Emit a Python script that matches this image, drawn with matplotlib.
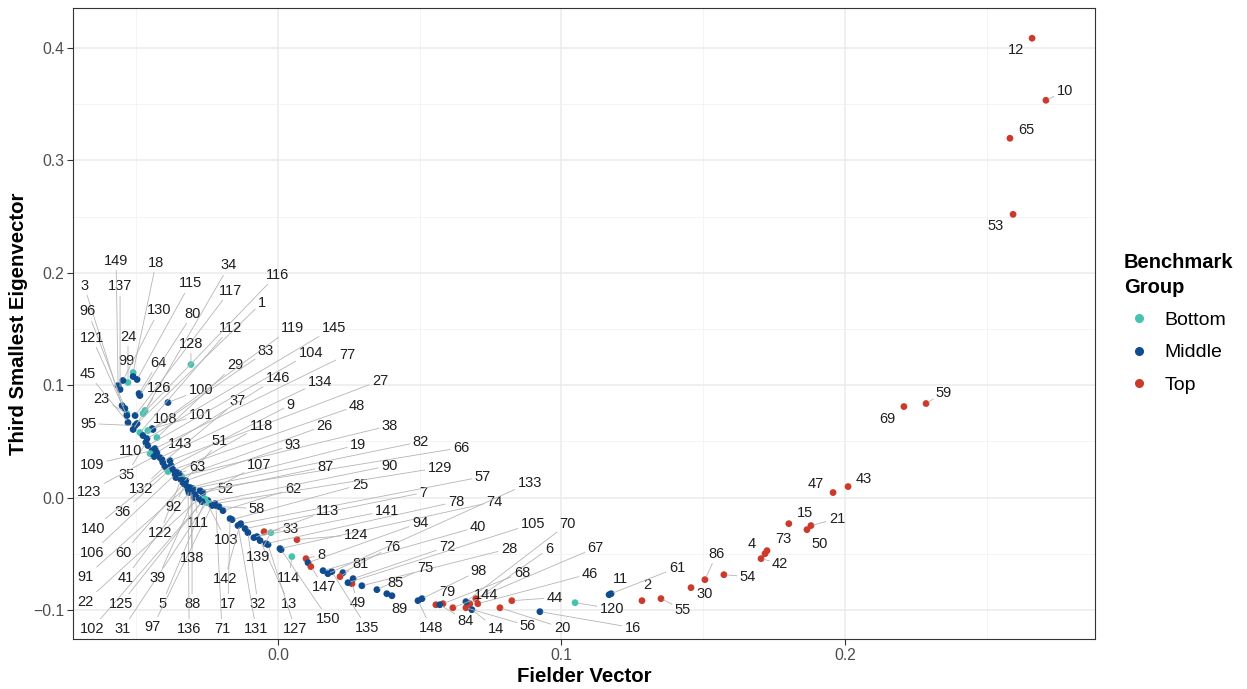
import matplotlib
matplotlib.use("Agg")
import matplotlib.pyplot as plt
from matplotlib.lines import Line2D

plt.rcParams['font.family'] = ['Liberation Sans', 'DejaVu Sans']

# sample ids 1..150
sample_id = list(range(1, 151))

# Fielder vector (x) by sample id
fiedler = [
    -0.0497, 0.1284, -0.0550, 0.1718, -0.0257, 0.0677, -0.0116, 0.0099, -0.0392, 0.2709,
    0.1168, 0.2660, -0.0063, 0.0684, 0.1802, 0.0924, -0.0169, -0.0511, -0.0310, 0.0783,
    0.1880, -0.0279, -0.0533, -0.0529, -0.0162, -0.0339, -0.0381, 0.0296, -0.0427, 0.1457,
    -0.0247, -0.0106, -0.0049, -0.0469, -0.0466, -0.0388, -0.0406, -0.0360, -0.0296, 0.0159,
    -0.0314, 0.1704, 0.2011, 0.0825, -0.0529, 0.0705, 0.1958, -0.0370, 0.0261, 0.1866,
    -0.0335, -0.0240, 0.2593, 0.1573, 0.1351, 0.0663, -0.0131, -0.0208, 0.2286, -0.0332,
    0.1175, -0.0194, -0.0349, -0.0490, 0.2582, -0.0275, 0.0698, 0.0582, 0.2208, 0.0663,
    -0.0219, 0.0265, 0.1725, 0.0007, 0.0349, 0.0229, -0.0434, -0.0042, 0.0557, -0.0487,
    0.0219, -0.0300, -0.0441, 0.0571, 0.0384, 0.1506, -0.0265, -0.0303, 0.0402, -0.0250,
    -0.0321, -0.0328, -0.0325, 0.0106, -0.0504, -0.0540, -0.0233, 0.0508, -0.0511, -0.0388,
    -0.0444, -0.0261, -0.0258, -0.0459, 0.0247, -0.0363, -0.0286, -0.0459, -0.0444, -0.0451,
    -0.0293, -0.0487, -0.0085, 0.0049, -0.0497, -0.0476, -0.0504, -0.0356, -0.0476, 0.1048,
    -0.0533, -0.0342, -0.0437, 0.0067, -0.0268, -0.0511, -0.0035, -0.0307, -0.0222, -0.0547,
    -0.0141, -0.0399, 0.0176, -0.0416, 0.0190, -0.0317, -0.0557, -0.0307, -0.0025, -0.0377,
    -0.0074, -0.0134, -0.0409, 0.0617, -0.0462, -0.0427, 0.0116, 0.0494, -0.0564, 0.0011,
]

# third smallest eigenvector (y) by sample id
third = [
    0.0659, -0.0917, 0.0819, -0.0499, -0.0027, -0.0944, -0.0276, -0.0543, 0.0258, 0.3535,
    -0.0864, 0.4087, -0.0383, -0.0997, -0.0232, -0.1015, -0.0187, 0.1113, 0.0089, -0.0980,
    -0.0249, -0.0009, 0.0748, 0.1024, -0.0196, 0.0187, 0.0329, -0.0784, 0.0534, -0.0801,
    -0.0027, -0.0312, -0.0303, 0.0775, 0.0490, 0.0232, 0.0312, 0.0178, 0.0000, -0.0650,
    0.0045, -0.0543, 0.0098, -0.0917, 0.0668, -0.0944, 0.0045, 0.0249, -0.0766, -0.0285,
    0.0134, -0.0053, 0.2520, -0.0686, -0.0899, -0.0980, -0.0232, -0.0080, 0.0837, 0.0125,
    -0.0855, -0.0116, 0.0214, 0.0926, 0.3197, 0.0062, -0.0899, -0.0944, 0.0810, -0.0926,
    -0.0071, -0.0721, -0.0472, -0.0454, -0.0819, -0.0668, 0.0436, -0.0410, -0.0953, 0.0908,
    -0.0703, 0.0080, 0.0606, -0.0953, -0.0855, -0.0730, 0.0045, 0.0053, -0.0873, -0.0045,
    0.0098, 0.0116, 0.0151, -0.0579, 0.0641, 0.0793, -0.0071, -0.0899, 0.1077, 0.0846,
    0.0614, -0.0018, -0.0009, 0.0463, -0.0757, 0.0205, 0.0000, 0.0597, 0.0418, 0.0392,
    0.0027, 0.0579, -0.0356, -0.0525, 0.1051, 0.0748, 0.0730, 0.0223, 0.0552, -0.0935,
    0.0730, 0.0160, 0.0365, -0.0374, -0.0036, 0.0606, -0.0419, 0.1184, -0.0053, 0.1042,
    -0.0249, 0.0276, -0.0677, 0.0356, -0.0659, 0.0071, 0.0962, 0.0071, -0.0312, 0.0285,
    -0.0347, -0.0240, 0.0338, -0.0980, 0.0525, 0.0401, -0.0614, -0.0917, 0.0997, -0.0463,
]

bottom_ids = [9, 18, 23, 24, 26, 29, 34, 36, 52, 90, 103, 108, 110, 112, 114, 116, 120, 128, 139]
top_ids = [2, 4, 6, 8, 10, 12, 15, 20, 21, 30, 33, 42, 43, 44, 46, 47, 49, 50, 53, 54, 55, 56,
           59, 65, 67, 68, 69, 73, 79, 81, 86, 124, 144, 147]
group_names = ["Bottom", "Middle", "Top"]

# label placement (pixel offsets from each point, repel-style layout)
lab_dx = [
    125, 5, -38, -13, -43, 79, 178, 15, 124, 19,
    11, -16, 29, 24, 16, 93, -2, 23, 168, 62,
    26, -113, -25, 0, 128, 143, 210, 147, 78, 14,
    -85, 10, 27, 84, -19, -45, 75, 214, -36, 155,
    -63, 19, 16, 43, -40, 112, -17, 184, 6, 13,
    37, 16, -17, 24, 22, 62, 242, 38, 18, -60,
    66, 70, 18, 19, 16, 261, 120, 79, -17, 102,
    6, 94, 16, 214, 48, 49, 192, 190, 12, 53,
    20, 228, 113, 26, 9, 12, 123, 0, 8, 182,
    -101, -11, 107, 112, -47, -37, -59, 57, -7, 33,
    49, -112, 21, 163, 185, -83, 62, 17, -60, -20,
    3, 91, 74, -3, 53, 134, 95, 84, 149, 37,
    -35, -21, -65, 59, -81, 26, 27, 0, 225, 36,
    18, -24, 202, 160, 35, 1, 0, 1, -13, -78,
    130, -15, 18, 33, 187, 121, 13, 13, -2, 47,
]
lab_dy = [
    121, 16, 120, 10, -103, 55, 36, 4, 64, 9,
    16, -12, -63, -19, 11, -16, -85, 110, 43, -20,
    7, -103, 15, 46, 35, 51, 80, 37, 73, -6,
    -128, -71, 3, 145, -32, -40, 62, 52, -80, 44,
    -85, -5, 8, 3, 49, 30, 9, 64, -19, -14,
    42, 15, -12, -2, -11, -18, 47, -2, 11, -69,
    26, 22, 7, 31, 8, 43, 51, 31, -12, 78,
    -123, 32, 12, 47, 22, 26, 94, 42, 13, 82,
    13, 47, 78, -16, 11, 26, 26, -112, -13, 37,
    -90, -22, 36, 40, 2, 97, -121, 28, 16, 13,
    14, -129, -41, 93, 59, -78, 33, 12, -14, 3,
    -28, 105, 27, -21, 96, 139, 125, 47, 108, -6,
    78, -53, -35, 5, -102, 41, -84, 21, 36, 70,
    -103, -22, 91, 76, -56, -139, 103, -68, -24, -63,
    26, -54, 16, 13, 111, 75, -20, -27, 125, -69,
]

colors = {"Bottom": "#45c3b0", "Middle": "#0f4c8f", "Top": "#cc3a2b"}


def group_of(i):
    if i in bottom_ids:
        return "Bottom"
    if i in top_ids:
        return "Top"
    return "Middle"


groups = [group_of(i) for i in sample_id]

fig = plt.figure(figsize=(12.47, 6.89), dpi=100)
ax = fig.add_axes([73 / 1247, 1 - 639 / 689, (1095 - 73) / 1247, (639 - 8) / 689])

ax.scatter(fiedler, third, c=[colors[g] for g in groups], s=24, linewidths=0, zorder=3)

for i, x, y, dx, dy in zip(sample_id, fiedler, third, lab_dx, lab_dy):
    txt = str(i)
    half_w = 3.6 * len(txt)
    gap = max(abs(dx) - half_w, abs(dy) - 7)
    kw = {}
    if gap > 10:
        kw["arrowprops"] = dict(arrowstyle="-", color="#b5b5b5", lw=0.6,
                                shrinkA=0, shrinkB=2)
    ax.annotate(txt, xy=(x, y), xytext=(dx, dy), textcoords="offset pixels",
                ha="center", va="center", fontsize=10.5, color="#1f1f1f",
                zorder=4, **kw)

ax.set_xlim(-0.0723, 0.2882)
ax.set_ylim(-0.1258, 0.4356)
ax.set_xticks([0.0, 0.1, 0.2])
ax.set_yticks([-0.1, 0.0, 0.1, 0.2, 0.3, 0.4])
ax.set_xticks([-0.05, 0.05, 0.15, 0.25], minor=True)
ax.set_yticks([-0.05, 0.05, 0.15, 0.25, 0.35], minor=True)
ax.grid(True, which="major", color="#ebebeb", lw=1.1, zorder=0)
ax.grid(True, which="minor", color="#f2f2f2", lw=0.6, zorder=0)
ax.set_axisbelow(True)
ax.tick_params(which="major", length=4, width=0.8, color="#333333",
               labelcolor="#4d4d4d", labelsize=11.3, pad=2.5)
ax.tick_params(which="minor", length=0)
for sp in ax.spines.values():
    sp.set_color("#333333")
    sp.set_linewidth(0.8)

ax.set_xlabel("Fielder Vector", fontsize=14.7, fontweight="bold", va="center")
ax.xaxis.set_label_coords(0.5, (639 - 677) / 631)
ax.set_ylabel("Third Smallest Eigenvector", fontsize=14.7, fontweight="bold", va="center")
ax.yaxis.set_label_coords((19 - 73) / 1022, 0.5)

handles = [Line2D([], [], marker="o", ls="", color=colors[g], markersize=5.5) for g in group_names]
leg = fig.legend(handles, group_names, title="Benchmark\nGroup", loc="upper left",
                 bbox_to_anchor=(1124 / 1247, 1 - 253 / 689), frameon=False, fontsize=14,
                 title_fontproperties={"weight": "bold", "size": 14.5}, alignment="left",
                 handlelength=1.55, handletextpad=0.55, labelspacing=0.75,
                 borderpad=0, borderaxespad=0)
leg.get_title().set_linespacing(1.4)

fig.savefig("out.png", dpi=100)
